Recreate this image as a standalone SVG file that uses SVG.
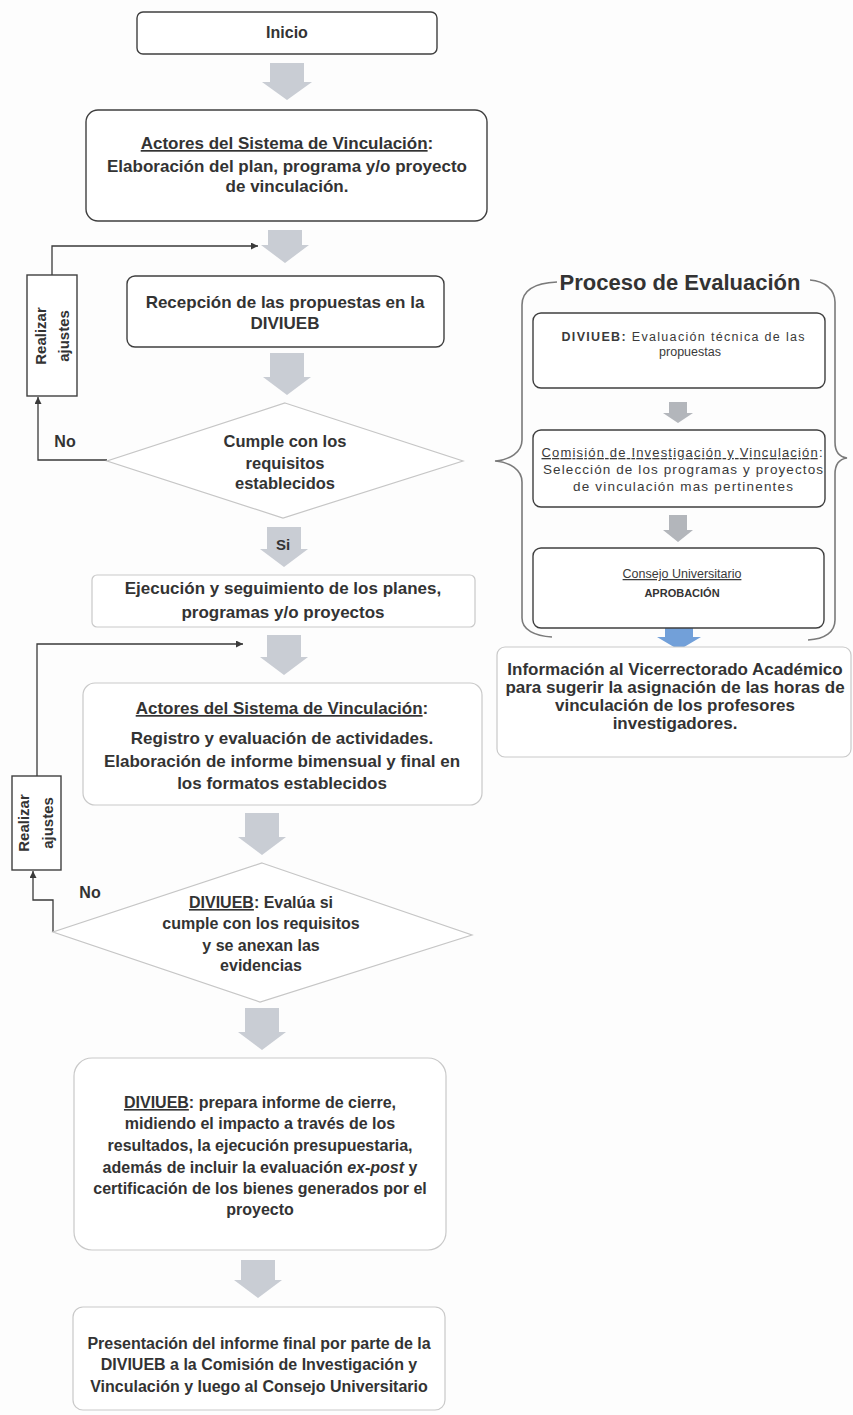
<svg xmlns="http://www.w3.org/2000/svg" width="853" height="1415" viewBox="0 0 853 1415">
<defs>
<style>
.bg{fill:#fdfdfd}
.bx{fill:#ffffff;stroke:#3f3f3f;stroke-width:1.4}
.lb{fill:#ffffff;stroke:#c9c9c9;stroke-width:1.2}
.dm{fill:#ffffff;stroke:#c6c6c6;stroke-width:1.2}
.ga{fill:#c9cdd4}
.gr{fill:#b3b6bb}
.bl{fill:#72a0d9}
.ln{fill:none;stroke:#3a3a3a;stroke-width:1.3}
.br{fill:none;stroke:#7a7a7a;stroke-width:1.6}
.t{font-family:"Liberation Sans",Arial,sans-serif;font-weight:bold;fill:#333333;text-anchor:middle}
.r{font-family:"Liberation Sans",Arial,sans-serif;font-weight:normal;fill:#3a3a3a;text-anchor:middle}
.u{text-decoration:underline}
</style>
<marker id="ah" viewBox="0 0 10 10" refX="10" refY="5" markerUnits="userSpaceOnUse" markerWidth="9" markerHeight="7" orient="auto">
<path d="M0,0 L10,5 L0,10 z" fill="#3a3a3a"/>
</marker>
</defs>
<rect class="bg" x="0" y="0" width="853" height="1415"/>

<g id="connectors">
<path class="ga" d="M270,63 H304 V82 H312 L287,100 L262,82 H270 Z"/>
<path class="ga" d="M268,230 H302 V245 H309 L285,263 L261,245 H268 Z"/>
<path class="ga" d="M270,353 H304 V377 H311 L287,395 L263,377 H270 Z"/>
<path class="ga" d="M267,527 H301 V549 H308 L284,567 L260,549 H267 Z"/>
<path class="ga" d="M267,635 H301 V657 H308 L284,675 L260,657 H267 Z"/>
<path class="ga" d="M245,813 H279 V837 H286 L262,855 L238,837 H245 Z"/>
<path class="ga" d="M245,1008 H279 V1032 H286 L262,1050 L238,1032 H245 Z"/>
<path class="ga" d="M241,1260 H275 V1280 H282 L258,1298 L234,1280 H241 Z"/>
<path class="gr" d="M669,402 H687 V413 H693 L678,423 L663,413 H669 Z"/>
<path class="gr" d="M669,515 H687 V530 H693 L678,542 L663,530 H669 Z"/>
<path class="bl" d="M665,625 H693 V637 H701 L679,650 L657,637 H665 Z"/>
<path class="ln" d="M107,460 H38 V397" marker-end="url(#ah)"/>
<path class="ln" d="M52,275 V246 H258" marker-end="url(#ah)"/>
<path class="ln" d="M53,932 V900 H33 V871" marker-end="url(#ah)"/>
<path class="ln" d="M37,776 V644 H243" marker-end="url(#ah)"/>
<text class="t" x="283" y="550" font-size="15">Si</text>
<text class="t" x="65" y="447" font-size="16">No</text>
<text class="t" x="90" y="898" font-size="16">No</text>
</g>

<g id="inicio">
<rect class="bx" x="137" y="12" width="300" height="42" rx="6"/>
<text class="t" x="287" y="38" font-size="16">Inicio</text>
</g>

<g id="actores1">
<rect class="bx" x="86" y="110" width="401" height="111" rx="12"/>
<text class="t" x="287" y="149" font-size="17"><tspan class="u">Actores del Sistema de Vinculación</tspan>:</text>
<text class="t" x="287" y="172" font-size="17">Elaboración del plan, programa y/o proyecto</text>
<text class="t" x="287" y="192" font-size="17">de vinculación.</text>
</g>

<g id="recepcion">
<rect class="bx" x="127" y="276" width="317" height="71" rx="8"/>
<text class="t" x="285" y="308" font-size="17">Recepción de las propuestas en la</text>
<text class="t" x="285" y="329" font-size="17">DIVIUEB</text>
</g>

<g id="ajustes1">
<rect class="bx" x="27" y="275" width="50" height="121" rx="0"/>
<g transform="translate(52,336) rotate(-90)">
<text class="t" x="0" y="-6" font-size="15">Realizar</text>
<text class="t" x="0" y="17" font-size="15">ajustes</text>
</g>
</g>

<g id="decision1">
<polygon class="dm" points="285,403 463,461 283,518 107,461"/>
<text class="t" x="285" y="447" font-size="16.5">Cumple con los</text>
<text class="t" x="285" y="469" font-size="16.5">requisitos</text>
<text class="t" x="285" y="489" font-size="16.5">establecidos</text>
</g>

<g id="ejecucion">
<rect class="lb" x="92" y="575" width="383" height="52" rx="5"/>
<text class="t" x="283" y="594" font-size="17">Ejecución y seguimiento  de los planes,</text>
<text class="t" x="283" y="618" font-size="17">programas y/o proyectos</text>
</g>

<g id="actores2">
<rect class="lb" x="83" y="683" width="399" height="122" rx="12"/>
<text class="t" x="282" y="714" font-size="17"><tspan class="u">Actores del Sistema de  Vinculación</tspan>:</text>
<text class="t" x="282" y="744" font-size="17">Registro y evaluación de actividades.</text>
<text class="t" x="282" y="767" font-size="17">Elaboración de informe bimensual y final en</text>
<text class="t" x="282" y="789" font-size="17">los formatos establecidos</text>
</g>

<g id="ajustes2">
<rect class="bx" x="12" y="776" width="49" height="94" rx="0"/>
<g transform="translate(36.5,823) rotate(-90)">
<text class="t" x="0" y="-8" font-size="15">Realizar</text>
<text class="t" x="0" y="16" font-size="15">ajustes</text>
</g>
</g>

<g id="decision2">
<polygon class="dm" points="262,863 472,935 260,1002 53,932"/>
<text class="t" x="261" y="908" font-size="16"><tspan class="u">DIVIUEB</tspan>:  Evalúa si</text>
<text class="t" x="261" y="929" font-size="16">cumple con los requisitos</text>
<text class="t" x="261" y="951" font-size="16">y se anexan las</text>
<text class="t" x="261" y="971" font-size="16">evidencias</text>
</g>

<g id="cierre">
<rect class="lb" x="74" y="1058" width="372" height="192" rx="18"/>
<text class="t" x="260" y="1108" font-size="16"><tspan class="u">DIVIUEB</tspan>:  prepara informe de cierre,</text>
<text class="t" x="260" y="1129" font-size="16">midiendo el impacto a través de los</text>
<text class="t" x="260" y="1151" font-size="16">resultados, la ejecución presupuestaria,</text>
<text class="t" x="260" y="1173" font-size="16">además de incluir la evaluación <tspan font-style="italic">ex-post</tspan> y</text>
<text class="t" x="260" y="1194" font-size="16">certificación de los bienes generados por el</text>
<text class="t" x="260" y="1215" font-size="16">proyecto</text>
</g>

<g id="presentacion">
<rect class="lb" x="73" y="1307" width="372" height="103" rx="10"/>
<text class="t" x="259" y="1349" font-size="16">Presentación del informe final por parte de la</text>
<text class="t" x="259" y="1370" font-size="16">DIVIUEB  a la Comisión de Investigación y</text>
<text class="t" x="259" y="1392" font-size="16">Vinculación y luego al Consejo Universitario</text>
</g>

<g id="proceso">
<path class="br" d="M557,282 C535,283 522,290 522,305 V440 C522,452 510,460 495,461 C510,462 522,470 522,482 V618 C522,630 535,636 552,637"/>
<path class="br" d="M810,280 C825,281 835,290 835,302 V442 C835,452 840,457 847,458 C840,459 835,464 835,474 V620 C835,632 825,639 808,640"/>
<text class="t" x="680" y="290" font-size="22">Proceso de Evaluación</text>
</g>

<g id="eval-tecnica">
<rect class="bx" x="533" y="313" width="292" height="75" rx="8"/>
<text class="r" x="683" y="341" font-size="12.5" textLength="243" lengthAdjust="spacing"><tspan font-weight="bold">DIVIUEB:</tspan>  Evaluación técnica de las</text>
<text class="r" x="690" y="356" font-size="12.5">propuestas</text>
</g>

<g id="comision">
<rect class="bx" x="533" y="430" width="292" height="77" rx="8"/>
<text class="r" x="682" y="457" font-size="13" textLength="281" lengthAdjust="spacing"><tspan class="u">Comisión de Investigación  y Vinculación</tspan>:</text>
<text class="r" x="683" y="474" font-size="13.5" textLength="280" lengthAdjust="spacing">Selección de los programas y proyectos</text>
<text class="r" x="683" y="491" font-size="13.5" textLength="220" lengthAdjust="spacing">de vinculación mas pertinentes</text>
</g>

<g id="consejo">
<rect class="bx" x="533" y="548" width="291" height="80" rx="8"/>
<text class="r" x="682" y="578" font-size="12.5"><tspan class="u">Consejo Universitario</tspan></text>
<text class="t" x="682" y="597" font-size="11">APROBACIÓN</text>
</g>

<g id="vicerrectorado">
<rect class="lb" x="497" y="647" width="354" height="110" rx="8"/>
<text class="t" x="675" y="675" font-size="17">Información al Vicerrectorado Académico</text>
<text class="t" x="675" y="693" font-size="17">para sugerir la asignación de las horas de</text>
<text class="t" x="675" y="711" font-size="17">vinculación de los profesores</text>
<text class="t" x="675" y="729" font-size="17">investigadores.</text>
</g>
</svg>
